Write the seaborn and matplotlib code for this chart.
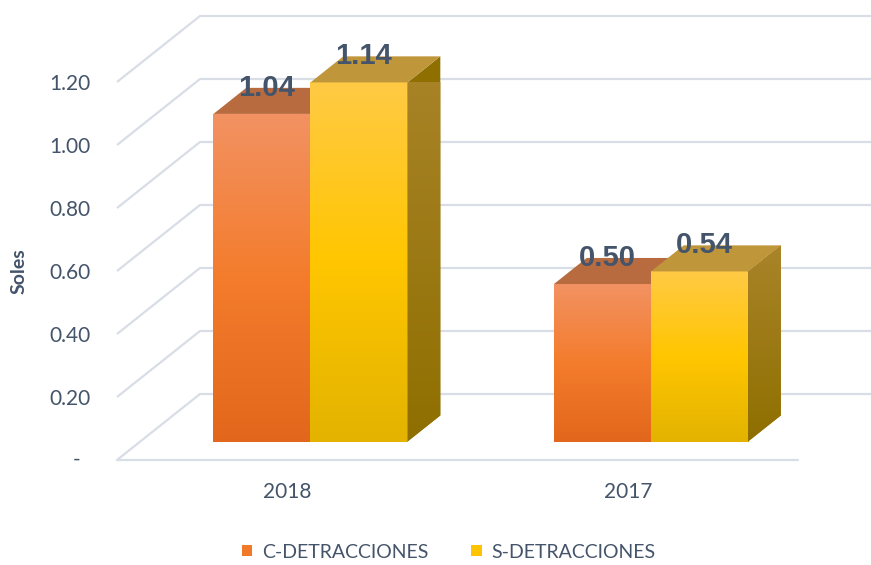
"""
3D-style grouped bar chart (Excel look) of detracciones per year, built with seaborn.
"""

import numpy as np
import pandas as pd
import matplotlib
matplotlib.use("Agg")
import matplotlib.pyplot as plt
import seaborn as sns
from matplotlib.transforms import ScaledTranslation
from matplotlib.patches import Polygon, Patch
from matplotlib.colors import LinearSegmentedColormap

# ─── Data ────────────────────────────────────────────────────────────────────

anios = ["2018", "2017"]
series = ["C-DETRACCIONES", "S-DETRACCIONES"]
c_detracciones = [1.04, 0.50]
s_detracciones = [1.14, 0.54]
y_ticks = [0.0, 0.2, 0.4, 0.6, 0.8, 1.0, 1.2]
y_tick_labels = ["", "0.20", "0.40", "0.60", "0.80", "1.00", "1.20"]
zero_label = "-"

# ─── Style ───────────────────────────────────────────────────────────────────

DPI = 100
DEPTH_PX = (83, 66)          # depth of the whole box, in pixels
BAR_FRONT, BAR_BACK = 0.28, 0.675
TEXT_COLOR = "#44546a"
GRID_COLOR = "#d9dde6"

front_grad = [["#f29262", "#f47c2c", "#e2671c"], ["#ffca45", "#ffc600", "#e3b300"]]
top_colors = ["#b96b40", "#c0963a"]
side_grad = [["#b06a3a", "#9a5a25"], ["#a98429", "#8f6f00"]]
legend_colors = ["#f07a2a", "#ffc300"]

sns.set_style("white")
plt.rcParams["font.family"] = ["Lato", "DejaVu Sans"]

df = pd.DataFrame({
    "anio": anios * 2,
    "serie": [series[0]] * len(anios) + [series[1]] * len(anios),
    "valor": c_detracciones + s_detracciones,
})

fig = plt.figure(figsize=(871 / DPI, 565 / DPI), dpi=DPI)
ax = fig.add_axes([117 / 871, 105 / 565, 681 / 871, 378 / 565])

sns.barplot(data=df, x="anio", y="valor", hue="serie", order=anios, hue_order=series,
            palette=legend_colors, width=0.57, legend=False, ax=ax)

ax.set_xlim(-0.5, 1.5)
ax.set_ylim(0, 1.2)
for s in ax.spines.values():
    s.set_visible(False)


def depth_trans(d, extra=(0, 0)):
    return ax.transData + ScaledTranslation((DEPTH_PX[0] * d + extra[0]) / DPI,
                                            (DEPTH_PX[1] * d + extra[1]) / DPI,
                                            fig.dpi_scale_trans)


def to_data(x, y, d):
    disp = depth_trans(d).transform((x, y))
    return ax.transData.inverted().transform(disp)


# ─── Back wall and floor ─────────────────────────────────────────────────────
for v in y_ticks:
    p1 = to_data(-0.5, v, 1)
    p2 = to_data(1.5, v, 1)
    ax.plot([-0.5, p1[0], p2[0]], [v, p1[1], p2[1]], color=GRID_COLOR, lw=1.6,
            clip_on=False, zorder=1, solid_capstyle="butt")
ax.plot([-0.5, 1.5], [0, 0], color=GRID_COLOR, lw=1.6, clip_on=False, zorder=1)

# ─── Bars ────────────────────────────────────────────────────────────────────
grad = np.linspace(0, 1, 256).reshape(-1, 1)
bars = list(ax.patches)
for p in bars:
    x0, w, h = p.get_x(), p.get_width(), p.get_height()
    x1 = x0 + w
    xc = x0 + w / 2
    k = 0 if xc < round(xc) else 1
    z = 3 + 3 * k

    bt = depth_trans(BAR_FRONT)
    p.set_transform(bt)
    p.set_zorder(z)
    p.set_edgecolor("none")

    cmap = LinearSegmentedColormap.from_list("f%d" % k, front_grad[k][::-1])
    im = ax.imshow(grad, cmap=cmap, extent=[x0, x1, 0, h], origin="lower",
                   aspect="auto", transform=bt, zorder=z + 0.1, interpolation="bilinear")
    im.set_clip_path(p)

    # side face
    side_pts = [to_data(x1, 0, BAR_FRONT), to_data(x1, h, BAR_FRONT),
                to_data(x1, h, BAR_BACK), to_data(x1, 0, BAR_BACK)]
    side = Polygon(side_pts, closed=True, facecolor=side_grad[k][1], edgecolor="none",
                   zorder=z + 0.2, clip_on=False)
    ax.add_patch(side)
    xs = [q[0] for q in side_pts]
    ys = [q[1] for q in side_pts]
    scmap = LinearSegmentedColormap.from_list("s%d" % k, side_grad[k][::-1])
    sim = ax.imshow(grad, cmap=scmap, extent=[min(xs), max(xs), min(ys), max(ys)],
                    origin="lower", aspect="auto", zorder=z + 0.25, interpolation="bilinear")
    sim.set_clip_path(side)

    # top face
    top_pts = [to_data(x0, h, BAR_FRONT), to_data(x1, h, BAR_FRONT),
               to_data(x1, h, BAR_BACK), to_data(x0, h, BAR_BACK)]
    ax.add_patch(Polygon(top_pts, closed=True, facecolor=top_colors[k], edgecolor="none",
                         zorder=z + 0.3, clip_on=False))

    # value label
    ax.text(xc, h, f"{h:.2f}", transform=depth_trans(BAR_FRONT, extra=(4.5, 18)),
            ha="center", va="baseline", fontsize=21, fontweight="bold",
            color=TEXT_COLOR, family=["Liberation Sans", "DejaVu Sans"], zorder=20)

ax.set_xlim(-0.5, 1.5)
ax.set_ylim(0, 1.2)

# ─── Axes text ───────────────────────────────────────────────────────────────
ax.set_yticks(y_ticks)
ax.set_yticklabels(y_tick_labels)
ax.tick_params(axis="y", length=0, pad=19, labelsize=15, labelcolor=TEXT_COLOR)
ax.tick_params(axis="x", length=0, pad=16, labelsize=15, labelcolor=TEXT_COLOR)
# accounting-style dash for zero sits a little left of the other numbers
ax.text(-0.06, y_ticks[0], zero_label, transform=ax.get_yaxis_transform(),
        ha="center", va="center", fontsize=15, color=TEXT_COLOR)
ax.set_xlabel("")
ax.set_ylabel("Soles", fontsize=14, fontweight="bold", color=TEXT_COLOR)
ax.yaxis.set_label_coords(-0.132, 0.5)

handles = [Patch(facecolor=c, edgecolor="none") for c in legend_colors]
fig.legend(handles, series, loc="center", bbox_to_anchor=(0.515, 0.023), ncol=2,
           frameon=False, handlelength=0.55, handleheight=0.55, handletextpad=0.5,
           columnspacing=2.2, fontsize=14, labelcolor=TEXT_COLOR)

fig.savefig("out.png", dpi=DPI)
plt.close(fig)
